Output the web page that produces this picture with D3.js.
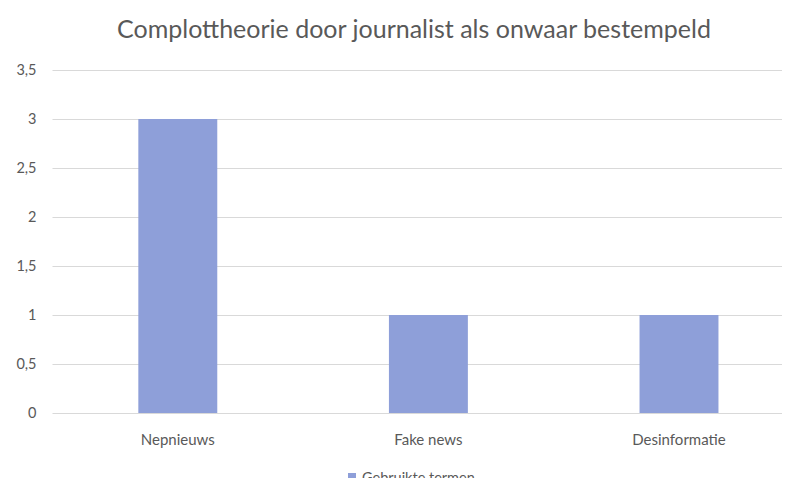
<!DOCTYPE html>
<html>
<head>
<meta charset="utf-8">
<script src="https://cdn.jsdelivr.net/npm/d3@7"></script>
<style>
  html, body { margin: 0; padding: 0; background: #ffffff; }
  svg { display: block; }
  text { font-family: Lato, "Open Sans", sans-serif; fill: #595959; }
</style>
</head>
<body>
<svg id="chart" width="792" height="478"></svg>
<script>
const title = "Complottheorie door journalist als onwaar bestempeld";
const categories = ["Nepnieuws", "Fake news", "Desinformatie"];
const seriesName = "Gebruikte termen";
const values = [3, 1, 1];
const yTicks = [0, 0.5, 1, 1.5, 2, 2.5, 3, 3.5];

const svg = d3.select("#chart");
const plotLeft = 52.5, plotRight = 782, bandRight = 804.3;
const plotTop = 70, plotBottom = 413;
const barColor = "#8e9fd9";
const font = "Lato, 'Open Sans', sans-serif";

const x = d3.scaleBand().domain(categories).range([plotLeft, bandRight])
  .paddingInner(0.685).paddingOuter(0.3425);
const y = d3.scaleLinear().domain([0, 3.5]).range([plotBottom, plotTop]);

const fmt = v => String(v).replace(".", ",");

// gridlines + y labels
const yAxis = d3.axisLeft(y).tickValues(yTicks).tickFormat(fmt)
  .tickSize(-(plotRight - plotLeft)).tickPadding(16);
const gy = svg.append("g").attr("transform", `translate(${plotLeft},0)`).call(yAxis);
gy.select(".domain").remove();
gy.selectAll(".tick line").attr("stroke", "#d9d9d9").attr("stroke-width", 1);
gy.selectAll(".tick text").attr("font-size", 14.5).attr("fill", "#595959")
  .style("font-family", font);

// bars
svg.append("g").selectAll("rect").data(values).join("rect")
  .attr("x", (d, i) => x(categories[i]))
  .attr("width", x.bandwidth())
  .attr("y", d => y(d))
  .attr("height", d => y(0) - y(d))
  .attr("fill", barColor);

// x axis labels
const xAxis = d3.axisBottom(x).tickSize(0).tickPadding(21);
const gx = svg.append("g").attr("transform", `translate(0,${plotBottom})`).call(xAxis);
gx.select(".domain").remove();
gx.selectAll(".tick text").attr("font-size", 15).attr("fill", "#595959")
  .style("font-family", font);

// title
svg.append("text").attr("x", 414).attr("y", 38).attr("text-anchor", "middle")
  .attr("font-size", 25).attr("fill", "#595959").text(title);

// legend (partially cut off at bottom, as in the reference)
const lg = svg.append("g").attr("transform", "translate(348,473)");
lg.append("rect").attr("x", 0).attr("y", 0).attr("width", 8).attr("height", 8).attr("fill", barColor);
lg.append("text").attr("x", 14).attr("y", 10).attr("font-size", 14.5).attr("fill", "#595959").text(seriesName);
</script>
</body>
</html>
